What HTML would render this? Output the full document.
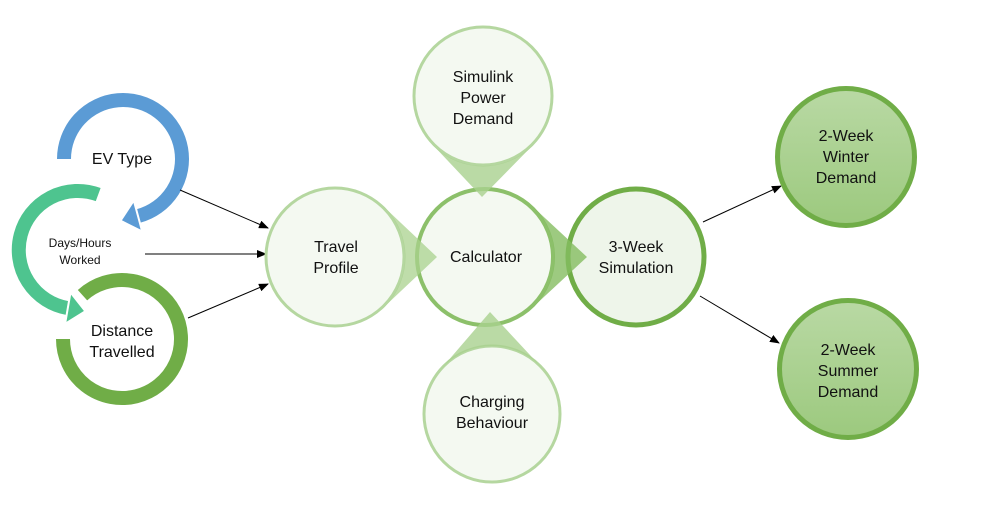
<!DOCTYPE html>
<html><head><meta charset="utf-8"><style>
html,body{margin:0;padding:0;background:#fff;}
svg text{font-family:"Liberation Sans",sans-serif;fill:#111;text-anchor:middle;}
</style></head><body>
<svg width="991" height="501" viewBox="0 0 991 501" xmlns="http://www.w3.org/2000/svg">
<defs>
<linearGradient id="g" x1="0" y1="0" x2="0" y2="1"><stop offset="0" stop-color="#b9d9a4"/><stop offset="1" stop-color="#9cc97e"/></linearGradient>
<marker id="ah" markerWidth="10" markerHeight="8" refX="9" refY="4" orient="auto" markerUnits="userSpaceOnUse"><path d="M0,0 L10,4 L0,8 Z" fill="#000"/></marker>
</defs>
<!-- left rings -->
<path d="M82.5,295.2 A59 59 0 1 1 63,339" fill="none" stroke="#70ad47" stroke-width="14"/>
<path d="M67.8,308.1 A59 59 0 1 1 98.2,194.6" fill="none" stroke="#4ec48f" stroke-width="14"/>
<polygon points="65.1,323.8 70.5,292.4 85.4,311.2" fill="#4ec48f" stroke="#fff" stroke-width="2"/>
<path d="M64,159 A59 59 0 1 1 138.3,216" fill="none" stroke="#5b9bd5" stroke-width="14"/>
<polygon points="142.2,231.5 133.8,200.5 120.5,220.7" fill="#5b9bd5" stroke="#fff" stroke-width="2"/>
<text x="122" y="164" font-size="16">EV Type</text>
<text x="80" y="247" font-size="12">Days/Hours</text>
<text x="80" y="264" font-size="12">Worked</text>
<text x="122" y="336" font-size="16">Distance</text>
<text x="122" y="357" font-size="16">Travelled</text>
<!-- arrows -->
<g stroke="#000" stroke-width="1" marker-end="url(#ah)">
<line x1="180" y1="190" x2="268" y2="228"/>
<line x1="145" y1="254" x2="266" y2="254"/>
<line x1="188" y1="318" x2="268" y2="284"/>
<line x1="703" y1="222" x2="781" y2="186"/>
<line x1="700" y1="296" x2="779" y2="343"/>
</g>
<!-- circles -->
<circle cx="483" cy="96" r="69" fill="#f4f9f1" stroke="#b5d7a0" stroke-width="3"/>
<circle cx="492" cy="414" r="68" fill="#f4f9f1" stroke="#b5d7a0" stroke-width="3"/>
<circle cx="335" cy="257" r="69" fill="#f4f9f1" stroke="#b5d7a0" stroke-width="3"/>
<circle cx="485" cy="257" r="68" fill="#f4f9f1" stroke="#8cc06a" stroke-width="4"/>
<circle cx="636" cy="257" r="68" fill="#eef5ea" stroke="#70ad47" stroke-width="5"/>
<!-- wedges -->
<path d="M432,144 L482,197 L534,144 A70 70 0 0 1 432,144 Z" fill="#a9d18e" opacity="0.8"/>
<path d="M441,369 L490,312 L543,369 A68 68 0 0 0 441,369 Z" fill="#a9d18e" opacity="0.8"/>
<path d="M383,206 L437,257 L383,308 A70 70 0 0 0 383,206 Z" fill="#a9d18e" opacity="0.75"/>
<path d="M532,206 L587,257 L532,308 A69 69 0 0 0 532,206 Z" fill="#84bd60" opacity="0.8"/>
<circle cx="846" cy="157" r="68.5" fill="url(#g)" stroke="#70ad47" stroke-width="5"/>
<circle cx="848" cy="369" r="68.5" fill="url(#g)" stroke="#70ad47" stroke-width="5"/>
<g font-size="16">
<text x="483" y="82">Simulink</text><text x="483" y="103">Power</text><text x="483" y="124">Demand</text>
<text x="336" y="252">Travel</text><text x="336" y="273">Profile</text>
<text x="486" y="262">Calculator</text>
<text x="636" y="252">3-Week</text><text x="636" y="273">Simulation</text>
<text x="492" y="407">Charging</text><text x="492" y="428">Behaviour</text>
<text x="846" y="141">2-Week</text><text x="846" y="162">Winter</text><text x="846" y="183">Demand</text>
<text x="848" y="355">2-Week</text><text x="848" y="376">Summer</text><text x="848" y="397">Demand</text>
</g>
</svg>
</body></html>
